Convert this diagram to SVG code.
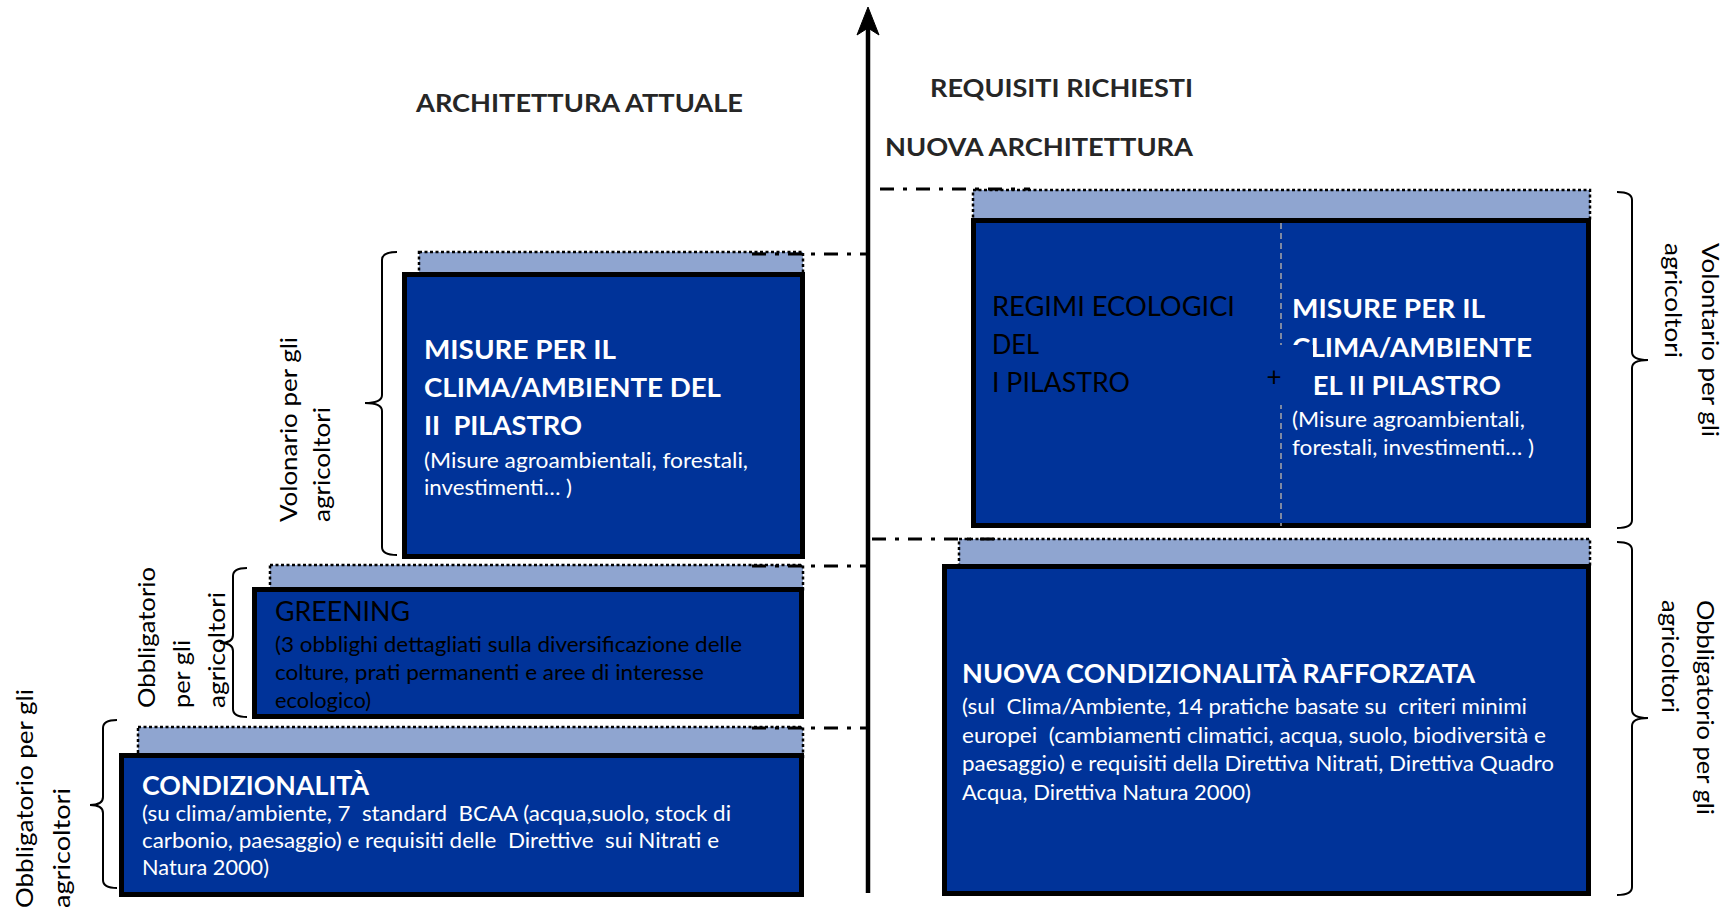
<svg xmlns="http://www.w3.org/2000/svg" width="1724" height="909" viewBox="0 0 1724 909">
<style>
text{font-family:Lato,"Liberation Sans",sans-serif;white-space:pre}
.ttl{font-weight:700;font-size:25px;fill:#262626}
.hd{font-weight:700;font-size:27px;fill:#fff}
.bd{font-size:22px;fill:#fff}
.rg{font-size:26px;fill:#000}
.bk{font-size:22px;fill:#000}
.lbl{font-size:23px;fill:#000}
.box{fill:#003399;stroke:#000;stroke-width:5}
.band{fill:#8FA5D0;stroke:#000;stroke-width:2.5;stroke-dasharray:3 2.5}
.brace{fill:none;stroke:#000;stroke-width:2}
.dd{fill:none;stroke:#000;stroke-width:3;stroke-dasharray:14 9 4 9}
</style>
<rect width="1724" height="909" fill="#fff"/>

<g id="titles">
<text class="ttl" x="416" y="112" textLength="327" lengthAdjust="spacingAndGlyphs">ARCHITETTURA ATTUALE</text>
<text class="ttl" x="930" y="97" textLength="263" lengthAdjust="spacingAndGlyphs">REQUISITI RICHIESTI</text>
<text class="ttl" x="885" y="156" textLength="308" lengthAdjust="spacingAndGlyphs">NUOVA ARCHITETTURA</text>
</g>

<g id="node-misure-attuale">
<rect class="band" x="419" y="252" width="384" height="24"/>
<rect class="box" x="404.5" y="274.5" width="398" height="282"/>
<text class="hd" x="424" y="359" textLength="192" lengthAdjust="spacingAndGlyphs">MISURE PER IL</text>
<text class="hd" x="424" y="397" textLength="297" lengthAdjust="spacingAndGlyphs">CLIMA/AMBIENTE DEL</text>
<text class="hd" x="424" y="435" textLength="158" lengthAdjust="spacingAndGlyphs">II  PILASTRO</text>
<text class="bd" x="424" y="468" textLength="324" lengthAdjust="spacingAndGlyphs">(Misure agroambientali, forestali,</text>
<text class="bd" x="424" y="495" textLength="148" lengthAdjust="spacingAndGlyphs">investimenti… )</text>
</g>

<g id="node-greening">
<rect class="band" x="270" y="565" width="533" height="27"/>
<rect class="box" x="254.5" y="589.5" width="547" height="127"/>
<text class="rg" x="275" y="621" textLength="135" lengthAdjust="spacingAndGlyphs">GREENING</text>
<text class="bk" x="275" y="652" textLength="467" lengthAdjust="spacingAndGlyphs">(3 obblighi dettagliati sulla diversificazione delle</text>
<text class="bk" x="275" y="680" textLength="429" lengthAdjust="spacingAndGlyphs">colture, prati permanenti e aree di interesse</text>
<text class="bk" x="275" y="708" textLength="96" lengthAdjust="spacingAndGlyphs">ecologico)</text>
</g>

<g id="node-condizionalita">
<rect class="band" x="138" y="727" width="665" height="30"/>
<rect class="box" x="121.5" y="755.5" width="680" height="139"/>
<text class="hd" x="142" y="795" textLength="227" lengthAdjust="spacingAndGlyphs">CONDIZIONALITÀ</text>
<text class="bd" x="142" y="821" textLength="589" lengthAdjust="spacingAndGlyphs">(su clima/ambiente, 7  standard  BCAA (acqua,suolo, stock di</text>
<text class="bd" x="142" y="848" textLength="577" lengthAdjust="spacingAndGlyphs">carbonio, paesaggio) e requisiti delle  Direttive  sui Nitrati e</text>
<text class="bd" x="142" y="875" textLength="127" lengthAdjust="spacingAndGlyphs">Natura 2000)</text>
</g>

<g id="node-nuova-volontario">
<rect class="band" x="973" y="190" width="617" height="32"/>
<rect class="box" x="973.5" y="220.5" width="615" height="305"/>
<line x1="1281" y1="223" x2="1281" y2="526" stroke="#a6a6a6" stroke-width="1.5" stroke-dasharray="6 4"/>
<text class="rg" x="992" y="316" textLength="243" lengthAdjust="spacingAndGlyphs">REGIMI ECOLOGICI</text>
<text class="rg" x="992" y="354" textLength="47" lengthAdjust="spacingAndGlyphs">DEL</text>
<text class="rg" x="992" y="392" textLength="138" lengthAdjust="spacingAndGlyphs">I PILASTRO</text>
<text class="hd" x="1292" y="318" textLength="193" lengthAdjust="spacingAndGlyphs">MISURE PER IL</text>
<text class="hd" x="1292" y="357" textLength="240" lengthAdjust="spacingAndGlyphs">CLIMA/AMBIENTE</text>
<text class="hd" x="1292" y="395" textLength="209" lengthAdjust="spacingAndGlyphs">DEL II PILASTRO</text>
<text class="bd" x="1292" y="427" textLength="233" lengthAdjust="spacingAndGlyphs">(Misure agroambientali,</text>
<text class="bd" x="1292" y="455" textLength="242" lengthAdjust="spacingAndGlyphs">forestali, investimenti… )</text>
<rect x="1258" y="345" width="55" height="60" fill="#003399"/>
<text x="1274" y="386" text-anchor="middle" style="font-size:26px;fill:#000">+</text>
</g>

<g id="node-nuova-condizionalita">
<rect class="band" x="959" y="539" width="631" height="29"/>
<rect class="box" x="944.5" y="566.5" width="644" height="327"/>
<text class="hd" x="962" y="683" textLength="513" lengthAdjust="spacingAndGlyphs">NUOVA CONDIZIONALITÀ RAFFORZATA</text>
<text class="bd" x="962" y="714" textLength="565" lengthAdjust="spacingAndGlyphs">(sul  Clima/Ambiente, 14 pratiche basate su  criteri minimi</text>
<text class="bd" x="962" y="743" textLength="584" lengthAdjust="spacingAndGlyphs">europei  (cambiamenti climatici, acqua, suolo, biodiversità e</text>
<text class="bd" x="962" y="771" textLength="592" lengthAdjust="spacingAndGlyphs">paesaggio) e requisiti della Direttiva Nitrati, Direttiva Quadro</text>
<text class="bd" x="962" y="800" textLength="289" lengthAdjust="spacingAndGlyphs">Acqua, Direttiva Natura 2000)</text>
</g>

<g id="labels">
<text class="lbl" transform="translate(33,908) rotate(-90)" textLength="219" lengthAdjust="spacingAndGlyphs">Obbligatorio per gli</text>
<text class="lbl" transform="translate(70,908) rotate(-90)" textLength="120" lengthAdjust="spacingAndGlyphs">agricoltori</text>
<text class="lbl" transform="translate(155,708) rotate(-90)" textLength="141" lengthAdjust="spacingAndGlyphs">Obbligatorio</text>
<text class="lbl" transform="translate(190,708) rotate(-90)" textLength="68" lengthAdjust="spacingAndGlyphs">per gli</text>
<text class="lbl" transform="translate(225,708) rotate(-90)" textLength="116" lengthAdjust="spacingAndGlyphs">agricoltori</text>
<text class="lbl" transform="translate(297,522) rotate(-90)" textLength="185" lengthAdjust="spacingAndGlyphs">Volonario per gli</text>
<text class="lbl" transform="translate(330,522) rotate(-90)" textLength="115" lengthAdjust="spacingAndGlyphs">agricoltori</text>
<text class="lbl" transform="translate(1702,243) rotate(90)" textLength="194" lengthAdjust="spacingAndGlyphs">Volontario per gli</text>
<text class="lbl" transform="translate(1665,243) rotate(90)" textLength="115" lengthAdjust="spacingAndGlyphs">agricoltori</text>
<text class="lbl" transform="translate(1697,600) rotate(90)" textLength="215" lengthAdjust="spacingAndGlyphs">Obbligatorio per gli</text>
<text class="lbl" transform="translate(1662,600) rotate(90)" textLength="113" lengthAdjust="spacingAndGlyphs">agricoltori</text>
</g>

<g id="braces">
<path class="brace" d="M117 720 Q103 720 103 728 L103 797 Q103 805 90 805 Q103 805 103 813 L103 880 Q103 888 117 888"/>
<path class="brace" d="M247 568 Q233 568 233 576 L233 635 Q233 643 220 643 Q233 643 233 651 L233 709 Q233 717 247 717"/>
<path class="brace" d="M397 252 Q382 252 382 260 L382 395 Q382 403 365 403 Q382 403 382 411 L382 547 Q382 555 397 555"/>
<path class="brace" d="M1617 192 Q1632 192 1632 200 L1632 352 Q1632 360 1648 360 Q1632 360 1632 368 L1632 520 Q1632 528 1617 528"/>
<path class="brace" d="M1617 542 Q1632 542 1632 550 L1632 710 Q1632 718 1648 718 Q1632 718 1632 726 L1632 887 Q1632 895 1617 895"/>
</g>

<g id="connectors">
<line x1="868" y1="28" x2="868" y2="893" stroke="#000" stroke-width="4.5"/>
<polygon points="868,7 857,35 868,28 879,35" fill="#000" stroke="#000" stroke-width="1"/>
<line class="dd" x1="752" y1="254" x2="866" y2="254"/>
<line class="dd" x1="752" y1="566" x2="866" y2="566"/>
<line class="dd" x1="752" y1="728" x2="866" y2="728"/>
<line class="dd" x1="880" y1="189" x2="1030" y2="189"/>
<line class="dd" x1="872" y1="539" x2="1003" y2="539"/>
</g>
</svg>
